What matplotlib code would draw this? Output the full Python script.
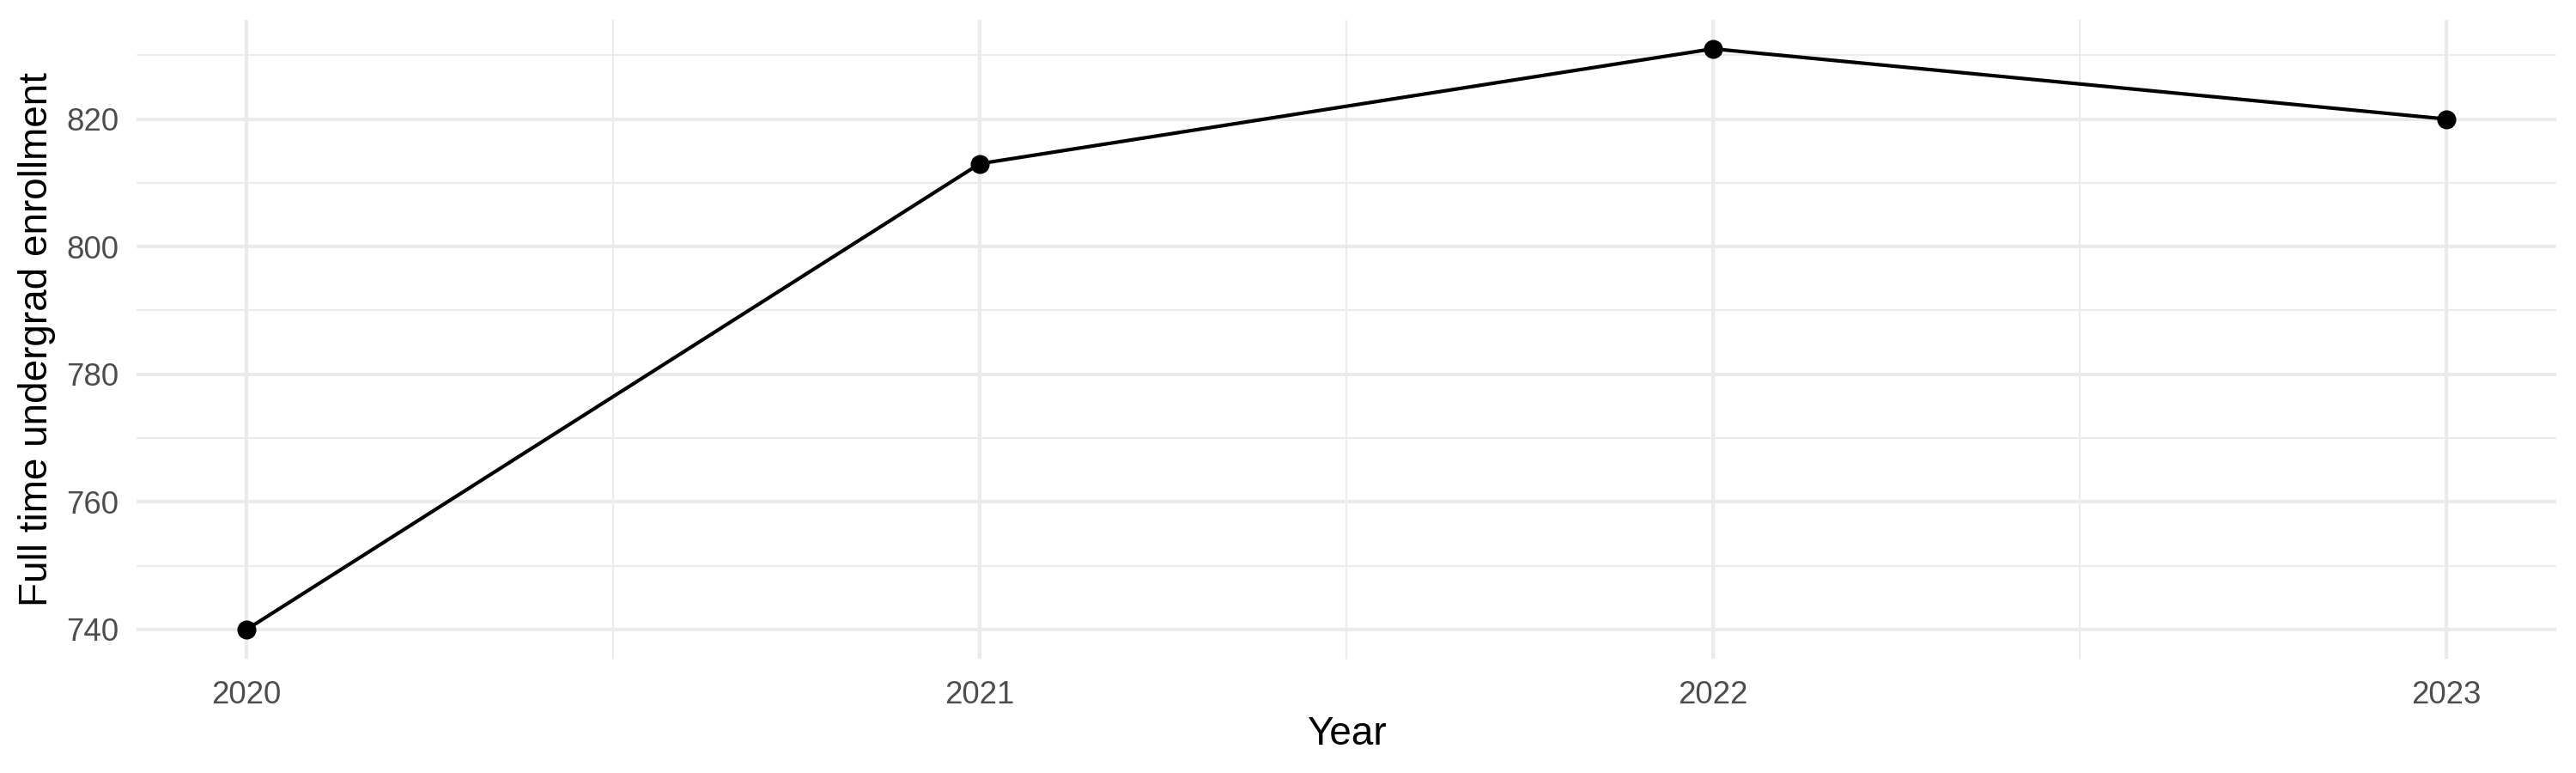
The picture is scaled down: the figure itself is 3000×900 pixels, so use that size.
import matplotlib
matplotlib.use("Agg")
import matplotlib.pyplot as plt
from matplotlib.ticker import MultipleLocator

years = [2020, 2021, 2022, 2023]
enrollment = [740, 813, 831, 820]
year_labels = ["2020", "2021", "2022", "2023"]
y_ticks = [740, 760, 780, 800, 820]

plt.rcParams["font.family"] = ["Liberation Sans", "DejaVu Sans"]

fig = plt.figure(figsize=(10, 3), dpi=300)
ax = fig.add_axes([0.053, 0.148, 0.9393, 0.8264])

ax.plot(years, enrollment, color="black", linewidth=1.0, marker="o",
        markersize=4.3, zorder=3)

ax.set_xlim(2019.85, 2023.15)
ax.set_ylim(735.45, 835.55)

ax.set_xticks(years)
ax.set_xticklabels(year_labels)
ax.set_yticks(y_ticks)
ax.xaxis.set_minor_locator(MultipleLocator(0.5))
ax.yaxis.set_minor_locator(MultipleLocator(10))

ax.grid(which="major", color="#EBEBEB", linewidth=1.0)
ax.grid(which="minor", color="#EBEBEB", linewidth=0.5)
ax.set_axisbelow(True)

for s in ax.spines.values():
    s.set_visible(False)
ax.tick_params(which="both", length=0)
ax.tick_params(axis="both", labelsize=8.8, labelcolor="#4D4D4D")
ax.tick_params(axis="y", pad=5)
ax.tick_params(axis="x", pad=6)

ax.set_xlabel("Year", fontsize=11, labelpad=1.5)
ax.set_ylabel("Full time undergrad enrollment", fontsize=11, labelpad=2.8)

fig.savefig("out.png", dpi=300, facecolor="white")
